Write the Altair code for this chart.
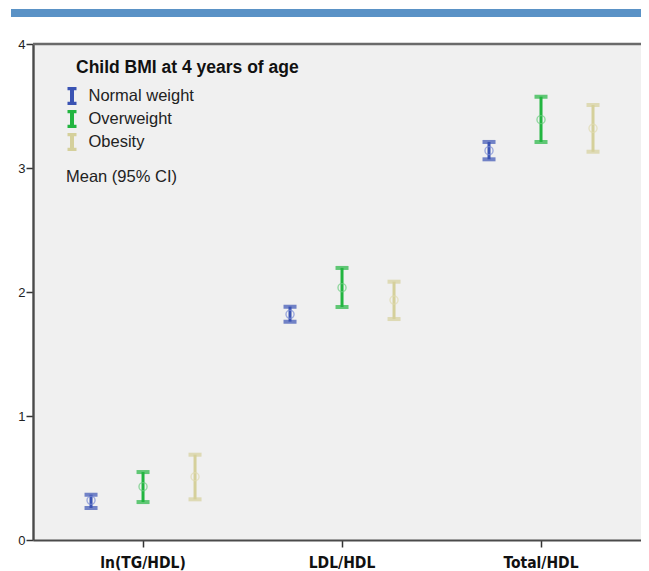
import altair as alt
import pandas as pd

metrics = ["ln(TG/HDL)", "LDL/HDL", "Total/HDL"]
groups = ["Normal weight", "Overweight", "Obesity"]

normal_mean = [0.32, 1.82, 3.14]
normal_low = [0.258, 1.761, 3.07]
normal_high = [0.365, 1.882, 3.21]

over_mean = [0.43, 2.035, 3.39]
over_low = [0.306, 1.879, 3.21]
over_high = [0.548, 2.194, 3.575]

obese_mean = [0.51, 1.935, 3.32]
obese_low = [0.328, 1.782, 3.131]
obese_high = [0.688, 2.083, 3.508]

bar_colors = ["#3A53B3", "#22B540", "#D5D09B"]
dot_colors = ["#7A8CD6", "#6ACD7E", "#E0DBB0"]

rows = []
for g, ms, lo, hi in [
    (groups[0], normal_mean, normal_low, normal_high),
    (groups[1], over_mean, over_low, over_high),
    (groups[2], obese_mean, obese_low, obese_high),
]:
    for m, a, b, c in zip(metrics, ms, lo, hi):
        rows.append({"metric": m, "group": g, "mean": a, "lower": b, "upper": c})
df = pd.DataFrame(rows)

W, H = 608, 496

x_enc = alt.X(
    "metric:N",
    sort=metrics,
    scale=alt.Scale(paddingInner=0.216, paddingOuter=0.1357, align=0.593),
    axis=alt.Axis(
        title=None,
        labelAngle=0,
        labelFont="Liberation Sans Narrow, DejaVu Sans Condensed, sans-serif",
        labelFontWeight="bold",
        labelFontSize=15.5,
        labelColor="#111",
        labelPadding=8,
        tickSize=7,
        tickWidth=1.5,
        tickColor="#333",
        domainColor="#4a4a4a",
        domainWidth=2.2,
    ),
)
xoff = alt.XOffset("group:N", sort=groups, scale=alt.Scale(paddingInner=0, paddingOuter=0))
y_scale = alt.Scale(domain=[0, 4], nice=False, zero=True)
y_axis = alt.Axis(
    title=None,
    values=[0, 1, 2, 3, 4],
    format="d",
    grid=False,
    labelFont="Liberation Sans",
    labelFontSize=13,
    labelColor="#222",
    labelPadding=1,
    tickSize=7,
    tickWidth=1.5,
    tickColor="#333",
    domainColor="#4a4a4a",
    domainWidth=2.4,
)

color_scale = alt.Scale(domain=groups, range=bar_colors)

legend = alt.Legend(
    title=None,
    orient="none",
    legendX=28,
    legendY=43,
    symbolType="M-0.5,-0.85H0.5M0,-0.85V0.85M-0.5,0.85H0.5",
    symbolSize=324,
    symbolStrokeWidth=4,
    labelFont="Liberation Sans",
    labelFontSize=16.5,
    labelColor="#222",
    labelOffset=5.5,
    clipHeight=18,
    rowPadding=5,
    padding=0,
)

base = alt.Chart(df)

rules = base.mark_rule(strokeWidth=3).encode(
    x=x_enc,
    xOffset=xoff,
    y=alt.Y("lower:Q", scale=y_scale, axis=y_axis),
    y2="upper:Q",
    color=alt.Color("group:N", sort=groups, scale=color_scale, legend=legend),
)

caps = base.transform_fold(["lower", "upper"], as_=["bound", "val"]).mark_tick(
    thickness=4, size=13
).encode(
    x=x_enc,
    xOffset=xoff,
    y=alt.Y("val:Q", scale=y_scale),
    color=alt.Color("group:N", sort=groups, scale=color_scale, legend=None),
)

dots = base.mark_point(filled=False, size=65, strokeWidth=1.4).encode(
    x=x_enc,
    xOffset=xoff,
    y=alt.Y("mean:Q", scale=y_scale),
    stroke=alt.Stroke("group:N", sort=groups, scale=alt.Scale(domain=groups, range=dot_colors), legend=None),
)

one = pd.DataFrame({"k": [0]})

top_bar = alt.Chart(one).mark_rule(color="#5A92C6", strokeWidth=8).encode(
    x=alt.value(-22), x2=alt.value(W), y=alt.value(-31)
)
top_frame = alt.Chart(one).mark_rule(color="#6a6a6a", strokeWidth=2.5).encode(
    x=alt.value(0), x2=alt.value(W), y=alt.value(0)
)
title_txt = alt.Chart(one).mark_text(
    text="Child BMI at 4 years of age",
    font="Liberation Sans",
    fontSize=17.5,
    fontWeight="bold",
    color="#111",
    align="left",
    baseline="alphabetic",
).encode(x=alt.value(43), y=alt.value(29))
mean_txt = alt.Chart(one).mark_text(
    text="Mean (95% CI)",
    font="Liberation Sans",
    fontSize=16.5,
    color="#222",
    align="left",
    baseline="alphabetic",
).encode(x=alt.value(33), y=alt.value(137.7))

chart = (
    alt.layer(top_bar, top_frame, rules, caps, dots, title_txt, mean_txt)
    .properties(
        width=W,
        height=H,
        autosize=alt.AutoSizeParams(type="none"),
        padding={"left": 25, "top": 36, "right": 0, "bottom": 40},
    )
    .configure_view(stroke=None, fill="#F0F0F0")
)

chart.save("out.html", embed_options={"renderer": "svg", "actions": False})
